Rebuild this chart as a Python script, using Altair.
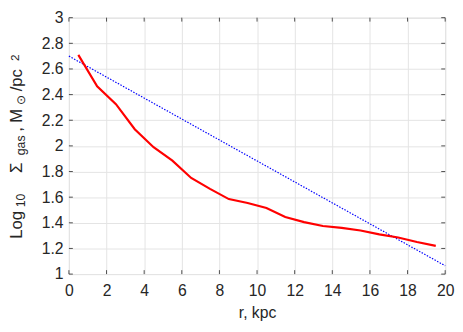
import altair as alt
import pandas as pd

# Data
r_obs = [0.5, 1.5, 2.5, 3.5, 4.5, 5.5, 6.5, 7.5, 8.5, 9.5, 10.5, 11.5, 12.5, 13.5, 14.5, 15.5, 16.5, 17.5, 18.5, 19.5]
sigma_obs = [2.71, 2.465, 2.325, 2.13, 1.99, 1.885, 1.75, 1.665, 1.585, 1.555, 1.515, 1.445, 1.405, 1.375, 1.36, 1.34, 1.31, 1.285, 1.25, 1.22]
r_fit = [0, 20]
sigma_fit = [2.70, 1.065]
x_ticks = [0, 2, 4, 6, 8, 10, 12, 14, 16, 18, 20]
y_ticks = [1.0, 1.2, 1.4, 1.6, 1.8, 2.0, 2.2, 2.4, 2.6, 2.8, 3.0]

W, H = 383, 261
TOP = 7

# y-axis title pieces: (text, font size, x offset, bottom page y)
title_parts = [
    ("Log", 17, -48, 240),
    ("10", 12.5, -45, 208),
    ("Σ", 17, -48, 173),
    ("gas", 12.5, -45, 155),
    (",", 17, -48, 131),
    ("M", 17, -48, 122),
    ("⊙", 12.5, -45, 104),
    ("/pc", 17, -48, 90),
    ("2", 12, -51, 59),
]

FONT = "Liberation Sans"
INK = "#262626"

obs = pd.DataFrame({"r": r_obs, "s": sigma_obs})
fit = pd.DataFrame({"r": r_fit, "s": sigma_fit})
xt = pd.DataFrame({"r": x_ticks})
yt = pd.DataFrame({"s": y_ticks})

xs = alt.Scale(domain=[0, 20], nice=False, zero=False)
ys = alt.Scale(domain=[1, 3], nice=False, zero=False)

xa = alt.Axis(values=x_ticks, format="~g", grid=True, domain=False, ticks=False,
              labelOverlap=False, labelFlush=False, tickCount=11,
              labelFontSize=16, labelPadding=9, titleFontSize=16, titlePadding=6,
              labelFont=FONT, titleFont=FONT, labelColor=INK, titleColor=INK,
              titleFontWeight="normal", gridColor="#e3e3e3")
ya = alt.Axis(values=y_ticks, format="~g", grid=True, domain=False, ticks=False,
              labelOverlap=False, labelFlush=False, tickCount=11,
              labelFontSize=16, labelPadding=6, labelFont=FONT, labelColor=INK,
              gridColor="#e3e3e3")

def X():
    return alt.X("r:Q", scale=xs, axis=xa, title="r, kpc")

def Y():
    return alt.Y("s:Q", scale=ys, axis=ya, title=None)

fit_line = alt.Chart(fit).mark_line(color="#0000ff", strokeWidth=1.2, strokeDash=[1.5, 1.5]).encode(
    x=X(), y=Y())

obs_line = alt.Chart(obs).mark_line(color="#ff0000", strokeWidth=2.2).encode(
    x=X(), y=Y())

tl = 4
xb = alt.Chart(xt).mark_rule(color=INK, strokeWidth=0.8).encode(
    x=X(), y=alt.value(H), y2=alt.value(H - tl))
xtop = alt.Chart(xt).mark_rule(color=INK, strokeWidth=0.8).encode(
    x=X(), y=alt.value(0), y2=alt.value(tl))
yl = alt.Chart(yt).mark_rule(color=INK, strokeWidth=0.8).encode(
    y=Y(), x=alt.value(0), x2=alt.value(tl))
yr = alt.Chart(yt).mark_rule(color=INK, strokeWidth=0.8).encode(
    y=Y(), x=alt.value(W), x2=alt.value(W - tl))

title_layers = []
for txt, size, tx, py in title_parts:
    title_layers.append(
        alt.Chart(alt.Data(values=[{"t": txt}])).mark_text(
            angle=270, align="left", baseline="alphabetic", fontSize=size, font=FONT, color=INK
        ).encode(text="t:N", x=alt.value(tx), y=alt.value(py - 8 - TOP))
    )

chart = alt.layer(fit_line, obs_line, xb, xtop, yl, yr, *title_layers).properties(
    width=W, height=H,
    autosize=alt.AutoSizeParams(type="none"),
    padding={"left": 62, "top": TOP, "right": 10, "bottom": 50},
).configure_view(stroke="#404040", strokeWidth=1).configure(background="white")

chart.save("out.html", embed_options={"renderer": "svg", "actions": False})
